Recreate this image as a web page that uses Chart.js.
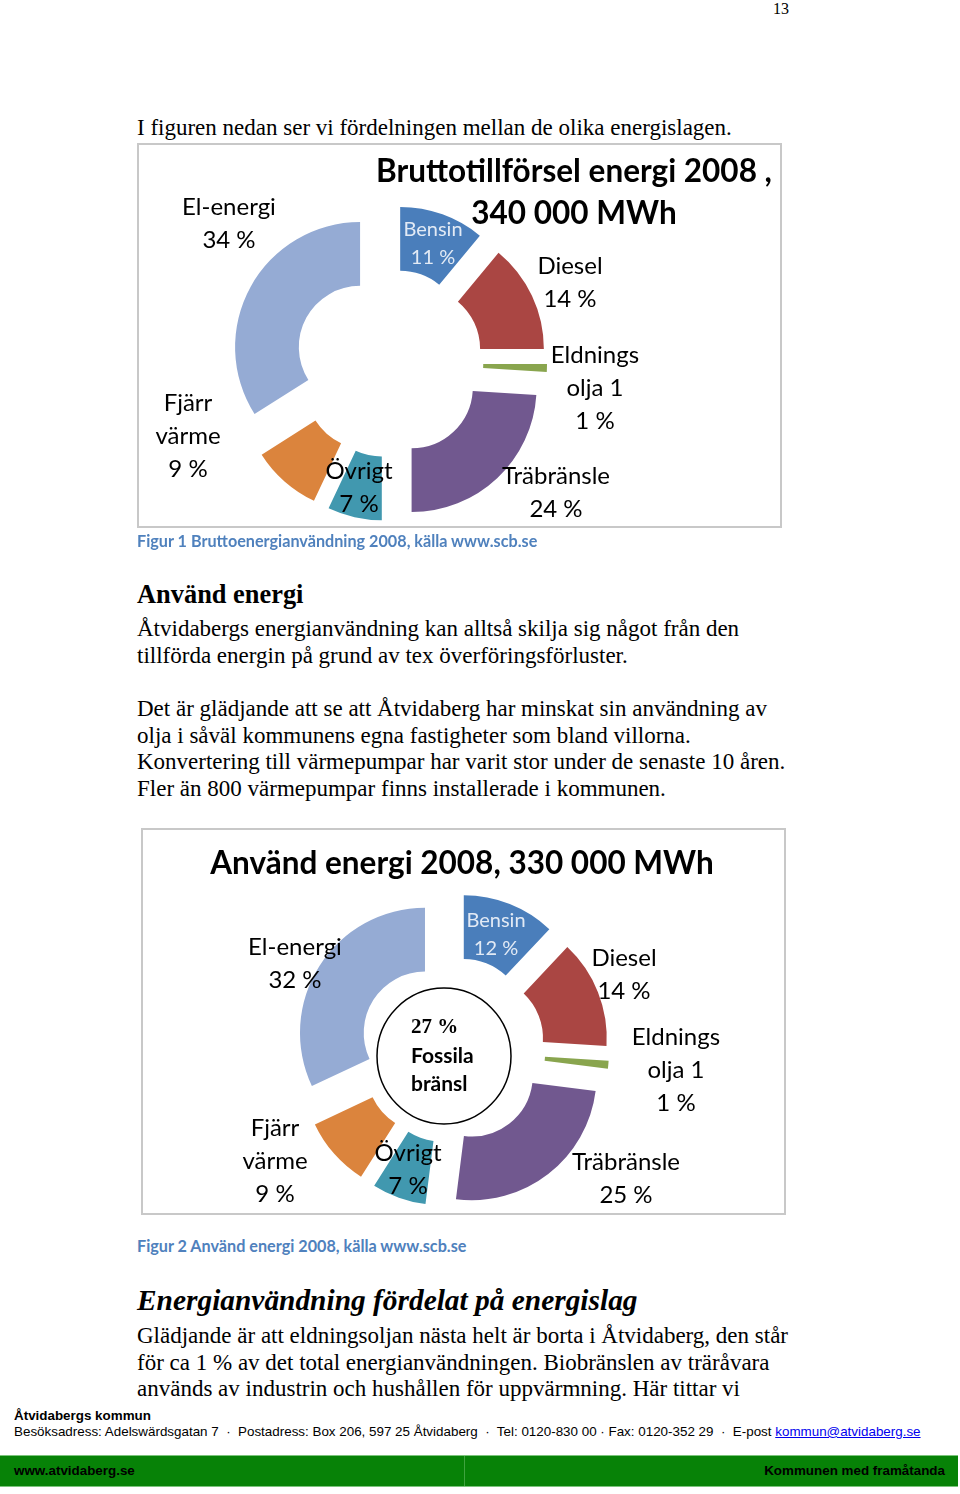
<!DOCTYPE html>
<html><head><meta charset="utf-8">
<script src="https://cdn.jsdelivr.net/npm/chart.js@4.4.0/dist/chart.umd.min.js"></script>
<style>
html,body{margin:0;padding:0;background:#fff;}
body{width:960px;height:1494px;position:relative;overflow:hidden;font-family:'Liberation Serif','Times New Roman',serif;color:#000;}
.t{position:absolute;white-space:nowrap;}
.p{font-size:23px;line-height:26.5px;left:137px;}
.h1{left:137px;font-size:26.4px;line-height:30px;font-weight:bold;}
.h2{left:137px;font-size:29.4px;line-height:32px;font-weight:bold;font-style:italic;}
.box{position:absolute;border:2px solid #c8c8c8;box-sizing:border-box;pointer-events:none;}
.cap{position:absolute;left:137px;font-family:Lato,sans-serif;font-weight:bold;font-size:16.2px;line-height:18px;color:#4f81bd;white-space:nowrap;}
.f{position:absolute;font-family:'Liberation Sans',Arial,sans-serif;font-size:13.4px;line-height:16px;white-space:nowrap;}
canvas{position:absolute;}
</style></head><body>
<div class="t" style="left:773px;top:0;font-size:16px;line-height:18px;">13</div>
<div class="t p" style="top:115px;">I figuren nedan ser vi fördelningen mellan de olika energislagen.</div>

<canvas id="c1" width="644" height="384" style="left:137px;top:143px;"></canvas>
<div class="box" style="left:137px;top:143px;width:645px;height:385px;"></div>
<div class="cap" style="top:532px;">Figur 1 Bruttoenergianvändning 2008, källa www.scb.se</div>

<div class="t h1" style="top:579px;">Använd energi</div>
<div class="t p" style="top:616px;">Åtvidabergs energianvändning kan alltså skilja sig något från den<br>tillförda energin på grund av tex överföringsförluster.</div>
<div class="t p" style="top:696px;">Det är glädjande att se att Åtvidaberg har minskat sin användning av<br>olja i såväl kommunens egna fastigheter som bland villorna.<br>Konvertering till värmepumpar har varit stor under de senaste 10 åren.<br>Fler än 800 värmepumpar finns installerade i kommunen.</div>

<canvas id="c2" width="644" height="386" style="left:141px;top:828px;"></canvas>
<div class="box" style="left:141px;top:828px;width:645px;height:387px;"></div>
<div class="cap" style="top:1237px;">Figur 2 Använd energi 2008, källa www.scb.se</div>

<div class="t h2" style="top:1284px;">Energianvändning fördelat på energislag</div>
<div class="t p" style="top:1323px;">Glädjande är att eldningsoljan nästa helt är borta i Åtvidaberg, den står<br>för ca 1 % av det total energianvändningen. Biobränslen av träråvara<br>används av industrin och hushållen för uppvärmning. Här tittar vi</div>

<div class="f" style="left:14px;top:1408px;font-weight:bold;">Åtvidabergs kommun</div>
<div class="f" style="left:14px;top:1424px;">Besöksadress: Adelswärdsgatan 7 &nbsp;·&nbsp; Postadress: Box 206, 597 25 Åtvidaberg &nbsp;·&nbsp; Tel: 0120-830 00 · Fax: 0120-352 29 &nbsp;·&nbsp; E-post <span style="color:#0000ee;text-decoration:underline;">kommun@atvidaberg.se</span></div>
<div style="position:absolute;left:0;top:1455px;width:958px;height:32px;background:#078207;border-top:1px solid #7cc47c;border-bottom:1px solid #7cc47c;box-sizing:border-box;"></div>
<div style="position:absolute;left:464px;top:1456px;width:1px;height:30px;background:#3fa33f;"></div>
<div class="f" style="left:14px;top:1463px;font-weight:bold;">www.atvidaberg.se</div>
<div class="f" style="right:15px;top:1463px;font-weight:bold;">Kommunen med framåtanda</div>

<script>
// ---- data ----
const categories = ['Bensin', 'Diesel', 'Eldningsolja 1', 'Träbränsle', 'Övrigt', 'Fjärrvärme', 'El-energi'];
const supplyValues = [11, 14, 1, 24, 7, 9, 34];
const usedValues = [12, 14, 1, 25, 7, 9, 32];
const labelLines = [['Bensin'], ['Diesel'], ['Eldnings', 'olja 1'], ['Träbränsle'], ['Övrigt'], ['Fjärr', 'värme'], ['El-energi']];
const supplyTitle = ['Bruttotillförsel energi 2008 ,', '340 000 MWh'];
const usedTitle = ['Använd energi 2008, 330 000 MWh'];
const fossilText = ['27 %', 'Fossila', 'bränsl'];

// ---- styles / layout ----
const colors = ['#4a7ebb', '#aa4643', '#89a54e', '#71588f', '#4198af', '#db843d', '#95abd4'];
const labelColors = ['#e2eaf5', '#000', '#000', '#000', '#000', '#000', '#000'];
const pos1 = [[296, 87], [433, 123], [458, 212], [419, 333], [222, 328], [51, 260], [92, 64]];
const pos2 = [[355, 93], [483, 130], [535, 209], [485, 334], [267, 325], [134, 300], [154, 119]];

const explodePlugin = {
  id: 'explode',
  beforeDatasetDraw(chart, args, opts) {
    const ctx = chart.ctx;
    const d = opts.distance || 0;
    args.meta.data.forEach(arc => {
      const mid = (arc.startAngle + arc.endAngle) / 2;
      ctx.save();
      ctx.translate(Math.cos(mid) * d, Math.sin(mid) * d);
      arc.draw(ctx);
      ctx.restore();
    });
    return false;
  }
};

const textPlugin = {
  id: 'texts',
  afterDraw(chart, args, opts) {
    const ctx = chart.ctx;
    ctx.save();
    ctx.textBaseline = 'middle';
    if (opts.ellipse) {
      const e = opts.ellipse;
      ctx.beginPath();
      ctx.ellipse(e.x, e.y, e.rx, e.ry, 0, 0, Math.PI * 2);
      ctx.fillStyle = '#fff';
      ctx.fill();
      ctx.lineWidth = 1.5;
      ctx.strokeStyle = '#000';
      ctx.stroke();
    }
    (opts.items || []).forEach(it => {
      ctx.font = it.font;
      ctx.fillStyle = it.color;
      ctx.textAlign = it.align || 'center';
      it.lines.forEach((ln, i) => ctx.fillText(ln, it.x, it.y + i * it.lh));
    });
    ctx.restore();
  }
};

function sliceItems(values, pos) {
  return values.map((v, i) => ({
    lines: labelLines[i].concat([v + ' %']),
    x: pos[i][0], y: pos[i][1],
    lh: i === 0 ? 28 : 33,
    font: i === 0 ? '20px Lato' : '24px Lato',
    color: labelColors[i]
  }));
}

function makeChart(id, values, pos, padding, explode, extraItems, ellipse) {
  return new Chart(document.getElementById(id), {
    type: 'doughnut',
    data: {
      labels: categories,
      datasets: [{ data: values, backgroundColor: colors, borderWidth: 0, clip: false }]
    },
    options: {
      responsive: false,
      animation: false,
      radius: 125,
      cutout: '49%',
      layout: { padding: padding },
      events: [],
      plugins: {
        legend: { display: false },
        tooltip: { enabled: false },
        explode: { distance: explode },
        texts: { items: sliceItems(values, pos).concat(extraItems), ellipse: ellipse }
      }
    },
    plugins: [explodePlugin, textPlugin]
  });
}

makeChart('c1', supplyValues, pos1, { left: 0, right: 140, top: 56, bottom: 0 }, 33, [
  { lines: supplyTitle, x: 437, y: 29, lh: 42, font: 'bold 31.5px Lato', color: '#000' }
]);

makeChart('c2', usedValues, pos2, { left: 0, right: 22, top: 58, bottom: 0 }, 32, [
  { lines: usedTitle, x: 321, y: 36, lh: 40, font: 'bold 31.5px Lato', color: '#000' },
  { lines: [fossilText[0]], x: 270, y: 200, lh: 28, font: 'bold 21px "Liberation Serif"', color: '#000', align: 'left' },
  { lines: fossilText.slice(1), x: 270, y: 228, lh: 28, font: 'bold 21px Lato', color: '#000', align: 'left' }
], { x: 303, y: 228, rx: 67, ry: 68 });
</script>
</body></html>
